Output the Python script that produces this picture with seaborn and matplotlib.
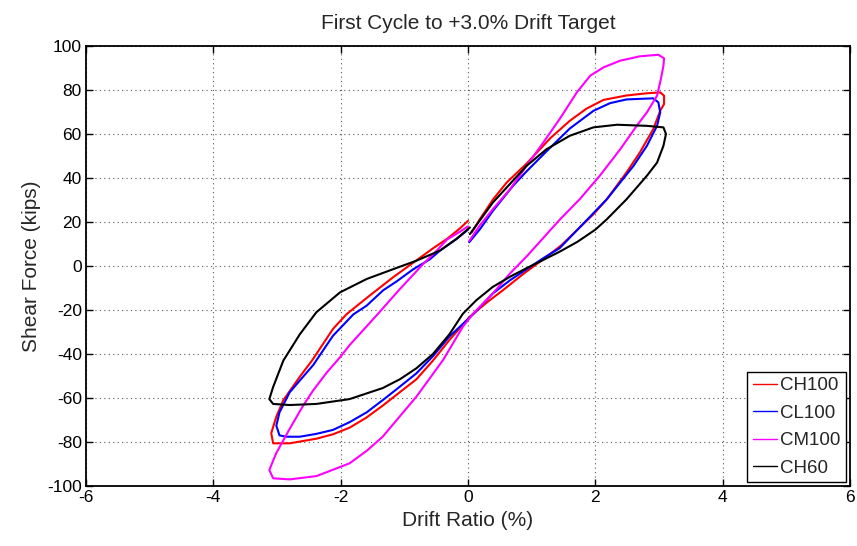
import matplotlib
matplotlib.use("Agg")
import matplotlib.pyplot as plt
import numpy as np
import pandas as pd
import seaborn as sns

# Drift ratio (%) and shear force (kips) along the first cycle to +3.0% drift
ch100_drift = [0.06, 0.19, 0.40, 0.61, 0.92, 1.29, 1.60, 1.86, 2.13, 2.49, 2.81, 3.02, 3.08, 3.08, 3.02,
               2.91, 2.70, 2.49, 2.18, 1.97, 1.47, 1.18, 0.87, 0.55, 0.30, 0.03, -0.29, -0.55, -0.81,
               -1.12, -1.34, -1.60, -1.86, -2.12, -2.38, -2.80, -3.06, -3.09, -3.01, -2.90, -2.64,
               -2.45, -2.12, -1.91, -1.59, -1.17, -0.86, -0.55, -0.33, -0.13, 0.00]
ch100_shear = [15.3, 21.4, 30.5, 38.0, 46.5, 58.0, 66.0, 71.5, 75.5, 77.5, 78.5, 78.9, 77.4, 73.6, 70.6,
               62.2, 51.6, 42.5, 30.3, 23.5, 9.5, 3.0, -3.6, -11.0, -16.5, -23.0, -33.6, -43.0, -51.5,
               -58.5, -63.5, -69.0, -73.5, -76.5, -78.5, -80.6, -80.6, -76.0, -68.5, -61.0, -50.3,
               -43.0, -28.6, -22.0, -14.5, -5.0, 1.5, 8.0, 12.3, 17.0, 20.5]

cl100_drift = [0.02, 0.19, 0.39, 0.71, 0.92, 1.23, 1.60, 1.97, 2.23, 2.49, 2.91, 2.99, 3.02, 2.97, 2.81,
               2.60, 2.18, 1.97, 1.44, 1.18, 0.92, 0.66, 0.39, 0.08, -0.29, -0.55, -0.81, -1.12, -1.34,
               -1.59, -1.86, -2.12, -2.38, -2.64, -2.85, -2.96, -3.01, -2.96, -2.80, -2.43, -2.12,
               -1.80, -1.59, -1.33, -1.12, -0.86, -0.60, -0.44, -0.18, 0.00]
cl100_shear = [10.8, 16.8, 25.0, 36.5, 43.0, 52.0, 62.5, 70.5, 74.0, 75.7, 76.2, 74.4, 69.8, 63.7, 54.6,
               45.5, 30.3, 24.0, 8.1, 3.5, -1.5, -6.5, -12.5, -22.0, -32.0, -41.0, -48.8, -56.0, -61.0,
               -66.5, -71.0, -74.5, -76.3, -77.6, -77.6, -77.0, -72.6, -66.5, -57.4, -45.0, -31.7,
               -22.0, -18.0, -11.0, -7.0, -1.5, 3.0, 7.0, 12.3, 16.5]

cm100_drift = [0.02, 0.18, 0.39, 0.66, 0.92, 1.18, 1.44, 1.71, 1.92, 2.13, 2.39, 2.70, 2.99, 3.08, 3.07,
               3.03, 2.97, 2.81, 2.65, 2.39, 2.07, 1.76, 1.44, 0.92, 0.66, 0.39, 0.08, -0.08, -0.39,
               -0.81, -1.34, -1.59, -1.86, -2.38, -2.80, -3.06, -3.12, -3.01, -2.80, -2.60, -2.43,
               -2.22, -2.01, -1.86, -1.44, -1.07, -0.70, -0.49, -0.33, -0.13, 0.00]
cm100_shear = [11.4, 18.2, 25.8, 34.9, 45.5, 56.0, 66.8, 78.9, 86.5, 90.3, 93.3, 95.3, 96.0, 94.4, 91.0,
               85.0, 77.4, 69.8, 63.7, 53.0, 41.0, 30.5, 21.0, 4.3, -3.4, -12.5, -21.7, -27.6, -42.7,
               -59.4, -77.6, -84.0, -89.7, -95.5, -97.0, -96.5, -92.7, -85.0, -74.0, -64.0, -56.5,
               -48.5, -41.5, -36.0, -22.6, -10.5, 1.0, 7.0, 12.0, 15.5, 18.0]

ch60_drift = [0.03, 0.39, 0.92, 1.23, 1.60, 1.97, 2.34, 2.81, 3.07, 3.11, 3.07, 2.97, 2.81, 2.49, 2.18,
              2.00, 1.72, 1.44, 1.13, 0.92, 0.66, 0.39, 0.13, -0.08, -0.29, -0.55, -0.81, -1.07, -1.34,
              -1.86, -2.38, -2.80, -3.06, -3.12, -3.06, -2.90, -2.64, -2.38, -2.01, -1.59, -1.17,
              -0.81, -0.44, -0.18, 0.03]
ch60_shear = [14.5, 28.8, 45.5, 53.0, 59.2, 63.0, 64.2, 63.7, 63.0, 60.0, 54.6, 47.0, 41.0, 30.3, 21.2,
              16.5, 11.0, 6.5, 2.0, -1.0, -4.9, -9.5, -15.6, -21.7, -31.0, -40.0, -46.5, -51.5, -55.5,
              -60.5, -62.7, -63.2, -62.7, -60.5, -55.0, -43.0, -31.0, -21.0, -12.0, -5.9, -1.4,
              2.4, 7.0, 12.3, 17.5]

specimens = ["CH100", "CL100", "CM100", "CH60"]
colors = ["#ff0000", "#0000ff", "#ff00ff", "#000000"]
x_ticks = [-6, -4, -2, 0, 2, 4, 6]
y_ticks = [-100, -80, -60, -40, -20, 0, 20, 40, 60, 80, 100]

frames = []
for name, xs, ys in zip(specimens,
                        [ch100_drift, cl100_drift, cm100_drift, ch60_drift],
                        [ch100_shear, cl100_shear, cm100_shear, ch60_shear]):
    frames.append(pd.DataFrame({"drift": xs, "shear": ys, "specimen": name}))
df = pd.concat(frames, ignore_index=True)

sns.set_theme(style="white")
plt.rcParams["font.family"] = ["Liberation Sans", "DejaVu Sans"]

fig = plt.figure(figsize=(8.57, 5.46), dpi=100)
ax = fig.add_axes([0.1003, 0.1099, 0.8915, 0.8059])

sns.lineplot(data=df, x="drift", y="shear", hue="specimen", hue_order=specimens,
             palette=dict(zip(specimens, colors)), sort=False, estimator=None,
             linewidth=1.5, ax=ax)

ax.set_xlim(-6, 6)
ax.set_ylim(-100, 100)
ax.set_xticks(x_ticks)
ax.set_yticks(y_ticks)
ax.set_xticklabels([str(t) for t in x_ticks], fontsize=12.5)
ax.set_yticklabels([str(t) for t in y_ticks], fontsize=12.5)
ax.tick_params(direction="in", length=5, width=1, top=True, right=True,
               bottom=True, left=True, colors="black", pad=3)
ax.grid(True, linestyle=(0, (1, 3)), color="#555555", linewidth=0.8)
for s in ax.spines.values():
    s.set_color("black")
    s.set_linewidth(1.3)

ax.set_xlabel("Drift Ratio (%)", fontsize=15, labelpad=4)
ax.set_ylabel("Shear Force (kips)", fontsize=15, labelpad=4)
ax.set_title("First Cycle to +3.0% Drift Target", fontsize=15, pad=12)

leg = ax.legend(loc="lower right", fancybox=False, edgecolor="black", framealpha=1,
                fontsize=13.5, handlelength=1.3, handletextpad=0.15, labelspacing=0.55,
                borderpad=0.3, borderaxespad=0.2, title=None)
leg.get_frame().set_linewidth(1.0)
for line in leg.get_lines():
    line.set_linewidth(1.0)

fig.savefig("out.png", dpi=100)
